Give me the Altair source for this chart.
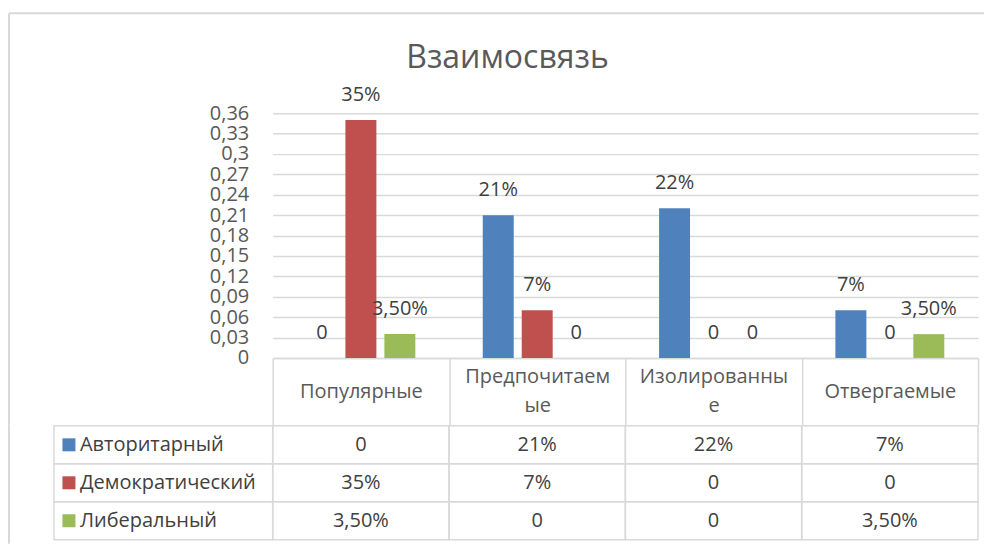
import altair as alt
import pandas as pd

TITLE = "Взаимосвязь"
categories = ["Популярные", "Предпочитаемые", "Изолированные", "Отвергаемые"]
category_lines = [["Популярные"], ["Предпочитаем", "ые"], ["Изолированны", "е"], ["Отвергаемые"]]
series = ["Авторитарный", "Демократический", "Либеральный"]
colors = ["#4f81bd", "#c0504d", "#9bbb59"]

avtoritarny = [0, 0.21, 0.22, 0.07]
demokratichesky = [0.35, 0.07, 0, 0]
liberalny = [0.035, 0, 0, 0.035]

avtoritarny_labels = ["0", "21%", "22%", "7%"]
demokratichesky_labels = ["35%", "7%", "0", "0"]
liberalny_labels = ["3,50%", "0", "0", "3,50%"]

y_ticks = [0, 0.03, 0.06, 0.09, 0.12, 0.15, 0.18, 0.21, 0.24, 0.27, 0.3, 0.33, 0.36]

rows = []
for s, vals, labs in zip(series, [avtoritarny, demokratichesky, liberalny],
                         [avtoritarny_labels, demokratichesky_labels, liberalny_labels]):
    for c, v, l in zip(categories, vals, labs):
        rows.append({"category": c, "series": s, "value": v, "label": l})
df = pd.DataFrame(rows)
series_df = pd.DataFrame({"series": series})
one = pd.DataFrame({"t": [TITLE]})

FONT = "Open Sans"
FS = 20
GRID = "#d9d9d9"
TEXT = "#595959"
DARK = "#404040"
W, H = 706, 245
HEADER = 67
ROWH = 38
LINE_H = 29

wrap_expr = ""
multi = []
for c, lines in zip(categories, category_lines):
    arr = "[" + ",".join("'" + t + "'" for t in lines) + "]"
    wrap_expr += f"datum.label == '{c}' ? {arr} : "
    if len(lines) > 1:
        multi.append(f"datum.value == '{c}'")
wrap_expr += "datum.label"
multi_test = " || ".join(multi)

color_scale = alt.Scale(domain=series, range=colors)

x_bar = alt.X(
    "category:N", sort=categories,
    scale=alt.Scale(domain=categories, paddingInner=0, paddingOuter=0),
    axis=alt.Axis(
        title=None, labelExpr=wrap_expr, tickBand="extent", tickSize=HEADER,
        tickColor=GRID, tickWidth=1.5, domainColor=GRID, domainWidth=1.5,
        labelAngle=0, labelBaseline="middle",
        labelPadding={"condition": {"test": multi_test, "value": -HEADER / 2 - LINE_H / 2},
                      "value": -HEADER / 2},
        labelLineHeight=LINE_H, labelFont=FONT, labelFontSize=FS, labelColor=TEXT,
        labelLimit=300, labelOverlap=False,
    ),
)
xoff = alt.XOffset("series:N", sort=series,
                   scale=alt.Scale(domain=series, paddingInner=8 / 39, paddingOuter=0.865))
y_bar = alt.Y(
    "value:Q",
    scale=alt.Scale(domain=[0, 0.36], nice=False),
    axis=alt.Axis(
        title=None, values=y_ticks,
        labelExpr="replace(format(datum.value, '.2~f'), '.', ',')",
        ticks=False, domain=False, labelPadding=24, grid=True,
        gridColor=GRID, gridWidth=1.5, labelFont=FONT, labelFontSize=FS,
        labelColor=TEXT,
    ),
)

base = alt.Chart(df)
bars = base.mark_bar().encode(
    x=x_bar, xOffset=xoff, y=y_bar,
    color=alt.Color("series:N", scale=color_scale, legend=None),
)
labels = base.mark_text(baseline="alphabetic", dy=-19, font=FONT, fontSize=FS, color=DARK).encode(
    x=x_bar, xOffset=xoff, y=y_bar, text="label:N"
)
title = alt.Chart(one).mark_text(font=FONT, fontSize=32, color=TEXT, baseline="middle").encode(
    text="t:N", x=alt.value(235), y=alt.value(-55)
)
frame_top = alt.Chart(one).mark_rule(color=GRID, strokeWidth=2).encode(
    x=alt.value(-264), x2=alt.value(712), y=alt.value(-100)
)
frame_left_top = alt.Chart(one).mark_rule(color=GRID, strokeWidth=2).encode(
    x=alt.value(-264), y=alt.value(-100), y2=alt.value(H + HEADER)
)

top = alt.layer(frame_top, frame_left_top, bars, labels, title).properties(width=W, height=H)

x_tab = alt.X("category:N", sort=categories, axis=None,
              scale=alt.Scale(domain=categories, paddingInner=0, paddingOuter=0))
y_tab = alt.Y("series:N", sort=series, axis=None,
              scale=alt.Scale(domain=series, paddingInner=0, paddingOuter=0))

cells = alt.Chart(df).mark_rect(fillOpacity=0, stroke=GRID, strokeWidth=1.5).encode(x=x_tab, y=y_tab)
cell_text = alt.Chart(df).mark_text(font=FONT, fontSize=FS, color=DARK, baseline="middle").encode(
    x=x_tab, y=y_tab, text="label:N"
)
label_cells = alt.Chart(series_df).mark_rect(fillOpacity=0, stroke=GRID, strokeWidth=1.5).encode(
    x=alt.value(-219), x2=alt.value(0), y=y_tab
)
swatches = alt.Chart(series_df).mark_square(size=169, opacity=1, filled=True).encode(
    x=alt.value(-204), y=y_tab, color=alt.Color("series:N", scale=color_scale, legend=None)
)
row_labels = alt.Chart(series_df).mark_text(font=FONT, fontSize=FS, color=DARK, align="left",
                                             baseline="middle").encode(
    x=alt.value(-193), y=y_tab, text="series:N"
)
frame_left_bottom = alt.Chart(one).mark_rule(color=GRID, strokeWidth=2).encode(
    x=alt.value(-264), y=alt.value(-1), y2=alt.value(3 * ROWH + 4)
)

table = alt.layer(frame_left_bottom, cells, label_cells, swatches, cell_text, row_labels).properties(
    width=W, height=3 * ROWH
)

chart = alt.vconcat(top, table, spacing=-3).properties(
    padding={"left": 0, "top": 4, "right": 0, "bottom": 0}
).configure_view(stroke=None)

chart.save("out.html", embed_options={"renderer": "svg", "actions": False})
